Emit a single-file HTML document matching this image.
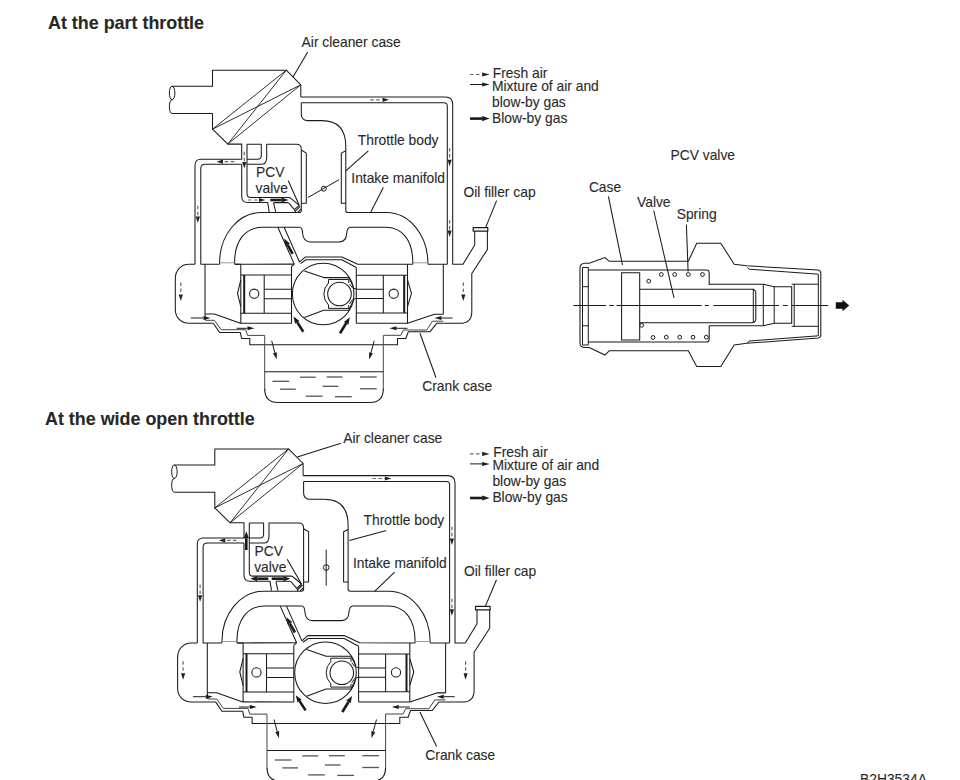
<!DOCTYPE html>
<html><head><meta charset="utf-8"><style>
html,body{margin:0;padding:0;background:#fff;}
svg{display:block;}
text{font-family:"Liberation Sans",sans-serif;fill:#262626;stroke:#555;stroke-width:0.15px;}
</style></head><body>
<svg width="960" height="780" viewBox="0 0 960 780">
<defs><g id="eng" stroke-linecap="butt" stroke-linejoin="round">
<path d="M172,86.3 L212.5,86.3 L212.5,70.2 L286.3,70.2 L300.8,84.8 L300.8,96.9" fill="none" stroke="#1a1a1a" stroke-width="1.05" />
<path d="M172,113.5 L212.5,113.5 L212.5,129.2 L227.8,144.1 L241.7,144.1" fill="none" stroke="#1a1a1a" stroke-width="1.05" />
<path d="M212.5,129.2 L286.3,70.2 M227.8,144.1 L300.8,84.8 M212.5,129.2 L300.8,84.8 M227.8,144.1 L286.3,70.2" fill="none" stroke="#1a1a1a" stroke-width="0.9" />
<path d="M172,86.3 C168.5,86.3 168.5,99.7 172,99.7 C175.8,99.7 175.8,86.3 172,86.3 M172,99.7 C168.5,99.7 168.5,113.5 172,113.5" fill="none" stroke="#1a1a1a" stroke-width="1.0" />
<path d="M300.8,96.9 L445.4,96.9 Q452.7,96.9 452.7,104.2 L452.7,264.2 L463,264.2 L474.7,245.1 L474.7,231.2" fill="none" stroke="#1a1a1a" stroke-width="1.05" />
<path d="M301.3,102.8 L444,102.8 Q447.3,102.8 447.3,106.1 L447.3,264.2" fill="none" stroke="#1a1a1a" stroke-width="1.05" />
<path d="M301.3,102.8 L301.3,114 Q301.3,120.6 308,120.6 L322,120.6 Q345.8,120.6 345.8,146.7 L345.8,210.4 Q345.8,212.5 348,212.5 L386.5,212.5 C409.4,212.5 427.9,235.3 427.9,263.5 L427.9,264.2" fill="none" stroke="#1a1a1a" stroke-width="1.05" />
<path d="M345.8,150.8 L341.3,153.1 L341.3,203.3 L345.8,203.3" fill="none" stroke="#1a1a1a" stroke-width="1.05" />
<path d="M487.4,231.2 L487.4,249.5 L471.8,273.5 L471.8,311.7 Q471.8,323.3 460,323.3 L443.3,323.3" fill="none" stroke="#1a1a1a" stroke-width="1.05" />
<path d="M473.2,227.6 L487.8,227.6 L487.8,231.2 L473.2,231.2 Z" fill="none" stroke="#1a1a1a" stroke-width="1.2" />
<path d="M241.7,143.8 L241.7,159.2 L201,159.2 Q195,159.2 195,165.2 L195,264.2" fill="none" stroke="#1a1a1a" stroke-width="1.05" />
<path d="M241.7,164.2 L205,164.2 Q200.8,164.2 200.8,168.5 L200.8,264.2 L219.6,264.2" fill="none" stroke="#1a1a1a" stroke-width="1.05" />
<path d="M241.7,164.2 L241.7,196.5 Q241.7,202.5 247.7,202.5 L267.7,202.5 L269.2,212" fill="none" stroke="#1a1a1a" stroke-width="1.05" />
<path d="M247,144.2 L247,193.5 Q247,197.4 250.5,197.4 L288.5,197.4 Q290.5,197.6 291.5,198.8 L299.2,205.3" fill="none" stroke="#1a1a1a" stroke-width="1.05" />
<path d="M247,144.2 L261.3,144.2 L261.3,155.5 Q261.3,159.2 257.6,159.2 L247,159.2" fill="none" stroke="#1a1a1a" stroke-width="1.05" />
<path d="M247,164.2 L262,164.2 Q266.7,164.2 266.7,157 L266.7,144.2 L296.5,144.2 Q301.3,144.2 301.3,149.2 L301.3,210.4 Q301.3,212.5 299.2,212.5 L261.2,212.5 C238.2,212.5 219.6,235 219.6,262.7 L219.6,264.2" fill="none" stroke="#1a1a1a" stroke-width="1.05" />
<path d="M301.3,150 L306.3,153.1 L306.3,203.3 L301.3,203.3" fill="none" stroke="#1a1a1a" stroke-width="1.05" />
<path d="M273.6,202.6 L287.5,202.6 Q288.6,202.8 289.3,203.6 L294.4,209.6" fill="none" stroke="#1a1a1a" stroke-width="1.05" />
<path d="M273.6,202.9 L275.7,212" fill="none" stroke="#1a1a1a" stroke-width="1.05" />
<path d="M294.4,209.6 L299.2,205.3 M295.0,211.3 L300.2,206.3 M297.9,212.2 L301.2,208.9" fill="none" stroke="#1a1a1a" stroke-width="1.1" />
<path d="M294.4,209.6 L295.6,212.3" fill="none" stroke="#1a1a1a" stroke-width="1.0" />
<path d="M234.6,264.2 L234.6,262.3 C234.6,240.6 245.3,227.3 262.7,227.3 L299.6,227.3 Q302.4,227.3 302.6,233.5 Q303.5,241.9 310.2,241.9 L339.1,241.9 Q346.2,241.9 346.6,234.1 Q347.2,227.3 350.5,227.3 L385.8,227.3 C402.5,227.3 412.8,240.6 412.8,262.3 L412.8,264.2" fill="none" stroke="#1a1a1a" stroke-width="1.05" />
<path d="M277.8,227.2 L294.3,264.1 M284.1,227.2 L299.6,262.2" fill="none" stroke="#1a1a1a" stroke-width="1.05" />
<path d="M219.6,262.8 L234.6,262.8" fill="none" stroke="#999" stroke-width="1.0" />
<path d="M234.6,264.2 L294.3,264.1" fill="none" stroke="#1a1a1a" stroke-width="1.05" />
<path d="M299.6,262.2 L305.4,256.9 L341.9,256.9 L357.3,264.1 L412.8,264.2 M427.9,264.2 L447.3,264.2" fill="none" stroke="#1a1a1a" stroke-width="1.05" />
<path d="M300.6,263.6 L305.9,259.8 L341.9,259.8 L356.3,267.5" fill="none" stroke="#1a1a1a" stroke-width="1.05" />
<path d="M427.9,262.8 L412.8,262.8" fill="none" stroke="#999" stroke-width="1.0" />
<path d="M195,264.2 L189,264.2 C181,264.2 175.3,270.5 175.3,278.5 L175.3,309.5 C175.3,317.5 181,323.2 189,323.2 L213.3,323.2 L219.6,332.5 L240.4,332.5 L241.5,338.5 L249.8,338.5 L249.8,344.8 L397.5,344.8 L397.5,338.5 L405.8,338.5 L408.3,331.7 L430,331.7 L436.7,323.3 L443.3,323.3" fill="none" stroke="#1a1a1a" stroke-width="1.05" />
<path d="M205,314 L214.4,314 L240.4,323.2 L291.7,323.3" fill="none" stroke="#1a1a1a" stroke-width="1.1" />
<path d="M205.5,320.3 L214.4,320.3 L221.1,329.7 L245.6,329.7 L247.6,335.4 L264.7,335.4 L264.7,390" fill="none" stroke="#444" stroke-width="1.0" />
<path d="M443.3,314.2 L434.5,314.2 L407.5,323.3 L356.3,323.3" fill="none" stroke="#1a1a1a" stroke-width="1.1" />
<path d="M443.3,321.2 L432.5,321.2 L426.7,330 L403.3,330 L400.8,335.3 L383.3,335.3 L383.3,390" fill="none" stroke="#444" stroke-width="1.0" />
<path d="M205,264.2 L205,314 M443.3,264.2 L443.3,314.2" fill="none" stroke="#1a1a1a" stroke-width="1.05" />
<path d="M240.8,264.2 L240.8,323.3 M291.5,266.5 L291.5,323.3 M356.3,267.5 L356.3,323.3 M407.5,264.2 L407.5,323.3" fill="none" stroke="#1a1a1a" stroke-width="1.05" />
<path d="M235,264.2 L240.8,264.2 M291.5,266.5 L294.3,264.1" fill="none" stroke="#1a1a1a" stroke-width="1.05" />
<path d="M240.8,275 L291.5,275 M240.8,313.3 L291.5,313.3 M264.2,275 L264.2,313.3 M240.8,280 L237.5,293.3 L240.8,306.7" fill="none" stroke="#1a1a1a" stroke-width="1.05" />
<line x1="244.2" y1="275" x2="244.2" y2="313.3" stroke="#1a1a1a" stroke-width="2.0" />
<circle cx="254.2" cy="293.7" r="4.6" fill="none" stroke="#1a1a1a" stroke-width="1.05"/>
<path d="M264.2,289.2 L292,289.2 M264.2,298.7 L292,298.7" fill="none" stroke="#1a1a1a" stroke-width="1.05" />
<path d="M356.3,275.3 L407.5,275.3 M356.3,313 L407.5,313 M383.3,275.3 L383.3,313 M407.5,280 L411.5,293.3 L407.5,306.7" fill="none" stroke="#1a1a1a" stroke-width="1.05" />
<line x1="404.2" y1="275.3" x2="404.2" y2="313" stroke="#1a1a1a" stroke-width="2.0" />
<circle cx="393.7" cy="293.7" r="4.6" fill="none" stroke="#1a1a1a" stroke-width="1.05"/>
<path d="M356.3,289.3 L383.3,289.3 M356.3,298.5 L383.3,298.5" fill="none" stroke="#1a1a1a" stroke-width="1.05" />
<circle cx="323.2" cy="294" r="30.8" fill="none" stroke="#1a1a1a" stroke-width="1.05"/>
<circle cx="339.5" cy="294" r="11.8" fill="none" stroke="#1a1a1a" stroke-width="1.05"/>
<path d="M304.4,270.9 L323.7,277.6 L348.7,277.6 L353.5,286.7 M304.4,317.5 L323.7,310.3 L348.7,310.3 L353.5,300.2" fill="none" stroke="#1a1a1a" stroke-width="1.05" />
<path d="M328.5,283 L328.5,279.5 L348.7,279.5 L348.7,283 M328.5,305 L328.5,308.4 L348.7,308.4 L348.7,305 M328.5,283 A15.4,15.4 0 0 0 328.5,305" fill="none" stroke="#1a1a1a" stroke-width="1.0" />
<path d="M356.3,289.1 Q352,289.1 349.5,284 M356.3,298.3 Q352,298.3 349.5,304" fill="none" stroke="#1a1a1a" stroke-width="1.0" />
<path d="M264.7,371.7 L383.3,371.7" fill="none" stroke="#1a1a1a" stroke-width="1.05" />
<path d="M264.7,389 Q264.7,402.5 278.3,402.5 L369.7,402.5 Q383.3,402.5 383.3,389" fill="none" stroke="#1a1a1a" stroke-width="1.1" />
<line x1="272.5" y1="381.3" x2="289.2" y2="381.3" stroke="#555" stroke-width="1.3" />
<line x1="300" y1="377.2" x2="315.8" y2="377.2" stroke="#555" stroke-width="1.3" />
<line x1="326.7" y1="377" x2="342.5" y2="377" stroke="#555" stroke-width="1.3" />
<line x1="360" y1="377" x2="376.7" y2="377" stroke="#555" stroke-width="1.3" />
<line x1="280" y1="389.2" x2="295.8" y2="389.2" stroke="#555" stroke-width="1.3" />
<line x1="322.5" y1="386.3" x2="338.3" y2="386.3" stroke="#555" stroke-width="1.3" />
<line x1="360" y1="388.8" x2="376.7" y2="388.8" stroke="#555" stroke-width="1.3" />
<line x1="305.8" y1="396.2" x2="322.5" y2="396.2" stroke="#555" stroke-width="1.3" />
<line x1="335" y1="396.7" x2="351.7" y2="396.7" stroke="#555" stroke-width="1.3" />
<path d="M205.5,320.3 L205,314" fill="none" stroke="#1a1a1a" stroke-width="1.0" />
<polygon points="389.00,99.80 382.50,101.90 382.50,97.70" fill="#222"/>
<line x1="370.2" y1="99.8" x2="382.50" y2="99.80" stroke="#666" stroke-width="1.2" stroke-dasharray="3.5,2.5"/>
<polygon points="449.60,166.30 447.50,159.80 451.70,159.80" fill="#222"/>
<line x1="449.6" y1="148" x2="449.60" y2="159.80" stroke="#666" stroke-width="1.2" stroke-dasharray="3.5,2.5"/>
<polygon points="449.60,237.00 447.50,230.50 451.70,230.50" fill="#222"/>
<line x1="449.6" y1="220" x2="449.60" y2="230.50" stroke="#666" stroke-width="1.2" stroke-dasharray="3.5,2.5"/>
<polygon points="216.50,161.70 223.00,159.60 223.00,163.80" fill="#222"/>
<line x1="234.2" y1="161.7" x2="223.00" y2="161.70" stroke="#666" stroke-width="1.2" stroke-dasharray="3.5,2.5"/>
<polygon points="197.80,223.00 195.70,216.50 199.90,216.50" fill="#222"/>
<line x1="197.8" y1="205.8" x2="197.80" y2="216.50" stroke="#666" stroke-width="1.2" stroke-dasharray="3.5,2.5"/>
<polygon points="180.80,301.00 178.70,294.50 182.90,294.50" fill="#222"/>
<line x1="180.8" y1="282.5" x2="180.80" y2="294.50" stroke="#666" stroke-width="1.2" stroke-dasharray="3.5,2.5"/>
<polygon points="463.30,301.00 461.20,294.50 465.40,294.50" fill="#222"/>
<line x1="463.3" y1="282.5" x2="463.30" y2="294.50" stroke="#666" stroke-width="1.2" stroke-dasharray="3.5,2.5"/>
<polygon points="210.50,318.00 203.50,320.00 203.50,316.00" fill="#1a1a1a"/>
<line x1="190.8" y1="318" x2="203.50" y2="318.00" stroke="#1a1a1a" stroke-width="1.0" />
<polygon points="254.50,328.30 247.50,330.30 247.50,326.30" fill="#1a1a1a"/>
<line x1="236.7" y1="328.3" x2="247.50" y2="328.30" stroke="#1a1a1a" stroke-width="1.0" />
<polygon points="434.50,318.00 441.50,316.00 441.50,320.00" fill="#1a1a1a"/>
<line x1="452.5" y1="318" x2="441.50" y2="318.00" stroke="#1a1a1a" stroke-width="1.0" />
<polygon points="389.50,328.30 396.50,326.30 396.50,330.30" fill="#1a1a1a"/>
<line x1="407.5" y1="328.3" x2="396.50" y2="328.30" stroke="#1a1a1a" stroke-width="1.0" />
<polygon points="284.20,238.50 289.85,243.38 285.29,245.89" fill="#1a1a1a"/>
<line x1="292.6" y1="253.8" x2="287.57" y2="244.64" stroke="#1a1a1a" stroke-width="2.6" />
<polygon points="293.50,316.50 299.48,320.97 295.11,323.79" fill="#1a1a1a"/>
<line x1="303.3" y1="331.7" x2="297.29" y2="322.38" stroke="#1a1a1a" stroke-width="2.6" />
<polygon points="349.80,317.30 348.36,324.63 343.93,321.91" fill="#1a1a1a"/>
<line x1="340" y1="333.3" x2="346.14" y2="323.27" stroke="#1a1a1a" stroke-width="2.6" />
<polygon points="276.70,359.50 272.96,353.25 276.82,352.22" fill="#1a1a1a"/>
<line x1="271.7" y1="340.8" x2="274.89" y2="352.74" stroke="#1a1a1a" stroke-width="1.0" />
<polygon points="369.20,359.50 369.08,352.22 372.94,353.25" fill="#1a1a1a"/>
<line x1="374.2" y1="340.8" x2="371.01" y2="352.74" stroke="#1a1a1a" stroke-width="1.0" />
</g></defs>
<use href="#eng"/>
<line x1="308" y1="197.5" x2="339" y2="179.7" stroke="#1a1a1a" stroke-width="1.0" />
<circle cx="323.8" cy="188.7" r="2.5" fill="none" stroke="#1a1a1a" stroke-width="1.0"/>
<polygon points="244.30,168.50 242.20,162.00 246.40,162.00" fill="#222"/>
<line x1="244.3" y1="151.7" x2="244.30" y2="162.00" stroke="#666" stroke-width="1.2" stroke-dasharray="3.5,2.5"/>
<polygon points="265.50,200.00 259.00,202.10 259.00,197.90" fill="#222"/>
<line x1="248" y1="200" x2="259.00" y2="200.00" stroke="#666" stroke-width="1.2" stroke-dasharray="3.5,2.5"/>
<polygon points="288.50,200.00 281.50,202.60 281.50,197.40" fill="#1a1a1a"/>
<line x1="270.3" y1="200" x2="281.50" y2="200.00" stroke="#1a1a1a" stroke-width="2.6" />
<g transform="translate(2.3,378.7)"><use href="#eng"/>
<line x1="323.9" y1="171" x2="323.9" y2="207" stroke="#1a1a1a" stroke-width="1.0" />
<circle cx="323.9" cy="188.8" r="2.8" fill="none" stroke="#1a1a1a" stroke-width="1.0"/>
<polygon points="244.00,152.50 246.60,159.50 241.40,159.50" fill="#1a1a1a"/>
<line x1="244" y1="171.3" x2="244.00" y2="159.50" stroke="#1a1a1a" stroke-width="2.6" />
<polygon points="248.00,200.00 255.00,197.40 255.00,202.60" fill="#1a1a1a"/>
<line x1="266" y1="200" x2="255.00" y2="200.00" stroke="#1a1a1a" stroke-width="2.6" />
<polygon points="288.00,200.00 281.00,202.60 281.00,197.40" fill="#1a1a1a"/>
<line x1="269.4" y1="200" x2="281.00" y2="200.00" stroke="#1a1a1a" stroke-width="2.6" />
</g>
<polygon points="489.60,74.50 482.10,76.60 482.10,72.40" fill="#222"/>
<line x1="470" y1="74.5" x2="482.10" y2="74.50" stroke="#666" stroke-width="1.2" stroke-dasharray="3.5,2.5"/>
<polygon points="489.60,84.50 482.10,86.50 482.10,82.50" fill="#1a1a1a"/>
<line x1="470" y1="84.5" x2="482.10" y2="84.50" stroke="#1a1a1a" stroke-width="1.0" />
<polygon points="489.60,118.60 482.10,121.20 482.10,116.00" fill="#1a1a1a"/>
<line x1="470" y1="118.6" x2="482.10" y2="118.60" stroke="#1a1a1a" stroke-width="2.6" />
<polygon points="489.60,453.90 482.10,456.00 482.10,451.80" fill="#222"/>
<line x1="470" y1="453.9" x2="482.10" y2="453.90" stroke="#666" stroke-width="1.2" stroke-dasharray="3.5,2.5"/>
<polygon points="489.60,463.90 482.10,465.90 482.10,461.90" fill="#1a1a1a"/>
<line x1="470" y1="463.9" x2="482.10" y2="463.90" stroke="#1a1a1a" stroke-width="1.0" />
<polygon points="489.60,498.00 482.10,500.60 482.10,495.40" fill="#1a1a1a"/>
<line x1="470" y1="498.0" x2="482.10" y2="498.00" stroke="#1a1a1a" stroke-width="2.6" />
<line x1="307.7" y1="51.9" x2="293" y2="76.9" stroke="#1a1a1a" stroke-width="1.05" />
<line x1="368.3" y1="150.8" x2="345.8" y2="170.8" stroke="#1a1a1a" stroke-width="1.05" />
<line x1="383.3" y1="187.5" x2="370.8" y2="212" stroke="#1a1a1a" stroke-width="1.05" />
<line x1="496.6" y1="200.6" x2="485.6" y2="227.6" stroke="#1a1a1a" stroke-width="1.05" />
<line x1="288.3" y1="180.8" x2="299.2" y2="205.3" stroke="#1a1a1a" stroke-width="1.05" />
<line x1="420" y1="333.3" x2="436" y2="377.8" stroke="#1a1a1a" stroke-width="1.05" />
<line x1="341" y1="443.3" x2="297.3" y2="457" stroke="#1a1a1a" stroke-width="1.05" />
<line x1="386.25" y1="530.4" x2="349.4" y2="540.4" stroke="#1a1a1a" stroke-width="1.05" />
<line x1="394.6" y1="572.1" x2="374.6" y2="591.3" stroke="#1a1a1a" stroke-width="1.05" />
<line x1="496.5" y1="579.8" x2="485.2" y2="606.6" stroke="#1a1a1a" stroke-width="1.05" />
<line x1="287.2" y1="559.2" x2="301.5" y2="584" stroke="#1a1a1a" stroke-width="1.05" />
<line x1="436.6" y1="746.4" x2="419.9" y2="712" stroke="#1a1a1a" stroke-width="1.05" />
<path d="M580,268 Q580,263.5 585,263.3 L589.2,263.3 L605,257.5 L609.2,261.3 L688.3,261.3 L696.7,243.3 L720.8,243.3 L734.2,264.2 L746.7,265.8 L818.3,270 Q820.8,270.5 820.8,273 L820.8,335 Q820.8,337.5 818.3,338 L746.7,343.3 L734.2,345 L720.8,366.5 L696.7,366.5 L688.3,350.8 L609.2,350.8 L605,355 L589.2,347.5 L585,347.5 Q580,347.3 580,343 Z" fill="none" stroke="#1a1a1a" stroke-width="1.05" />
<path d="M582.5,267.5 L588.3,267.5 L588.3,345 L582.5,345 Z M582.5,286.7 L588.3,286.7 M582.5,325.8 L588.3,325.8" fill="none" stroke="#1a1a1a" stroke-width="1.0" />
<path d="M588.3,270 L706.7,270 Q709.2,270 709.2,273 L709.2,285 M588.3,342 L706.7,342 Q709.2,342 709.2,339 L709.2,325.8" fill="none" stroke="#1a1a1a" stroke-width="1.05" />
<path d="M621.6,272.8 L639.7,272.8 L639.7,340 L621.6,340 Z" fill="none" stroke="#1a1a1a" stroke-width="1.05" />
<path d="M639.7,289.2 L752.5,289.2 Q755.8,290 755.8,293 L755.8,319 Q755.8,322 752.5,322.8 L639.7,322.8" fill="none" stroke="#1a1a1a" stroke-width="1.05" />
<path d="M709.2,284.2 L763.3,284.2 L774.2,286.7 L791.7,286.7 L791.7,323.3 L774.2,323.3 L763.3,325.8 L709.2,325.8" fill="none" stroke="#1a1a1a" stroke-width="1.05" />
<path d="M763.3,284.2 L763.3,325.8 M774.2,286.7 L774.2,323.3 M794.2,284.2 L794.2,326.3 M791.7,284.2 L818.3,284.2 M791.7,326.3 L818.3,326.3 M818.3,274.2 L818.3,335.8 M753.3,288.7 L753.3,322.3" fill="none" stroke="#1a1a1a" stroke-width="1.0" />
<path d="M747.5,267.5 L749.2,269.2 L818.3,274.2 M747.5,343 L749.2,341 L818.3,335.8" fill="none" stroke="#1a1a1a" stroke-width="1.0" />
<circle cx="661.3" cy="274.5" r="1.9" fill="none" stroke="#1a1a1a" stroke-width="1.0"/>
<circle cx="674.7" cy="274.5" r="1.9" fill="none" stroke="#1a1a1a" stroke-width="1.0"/>
<circle cx="688.3" cy="274.5" r="1.9" fill="none" stroke="#1a1a1a" stroke-width="1.0"/>
<circle cx="702.5" cy="274.5" r="1.9" fill="none" stroke="#1a1a1a" stroke-width="1.0"/>
<circle cx="648.7" cy="281.2" r="1.9" fill="none" stroke="#1a1a1a" stroke-width="1.0"/>
<circle cx="641.7" cy="325.3" r="1.9" fill="none" stroke="#1a1a1a" stroke-width="1.0"/>
<circle cx="653" cy="337.5" r="1.9" fill="none" stroke="#1a1a1a" stroke-width="1.0"/>
<circle cx="666.3" cy="337.2" r="1.9" fill="none" stroke="#1a1a1a" stroke-width="1.0"/>
<circle cx="679.7" cy="337.2" r="1.9" fill="none" stroke="#1a1a1a" stroke-width="1.0"/>
<circle cx="693" cy="337.2" r="1.9" fill="none" stroke="#1a1a1a" stroke-width="1.0"/>
<circle cx="706.3" cy="337.2" r="1.9" fill="none" stroke="#1a1a1a" stroke-width="1.0"/>
<path d="M573.3,305.5 L606,305.5 M609.4,305.5 L613.8,305.5 M616.5,305.5 L701.7,305.5 M704.8,305.5 L708.8,305.5 M713.4,305.5 L779,305.5 M783,305.5 L787.7,305.5 M791.6,305.5 L828.3,305.5" fill="none" stroke="#1a1a1a" stroke-width="1.0" />
<polygon points="835.8,302.3 842.5,302.3 842.5,299.8 849.2,305.5 842.5,311.3 842.5,308.7 835.8,308.7" fill="#111"/>
<line x1="608.4" y1="196.3" x2="622.5" y2="265" stroke="#1a1a1a" stroke-width="1.05" />
<line x1="653.7" y1="210.5" x2="674" y2="297.8" stroke="#1a1a1a" stroke-width="1.05" />
<line x1="686.4" y1="224.4" x2="688.1" y2="271.5" stroke="#1a1a1a" stroke-width="1.05" />
<text x="48" y="29" font-size="17.9" font-weight="bold">At the part throttle</text><text x="45" y="425" font-size="17.9" font-weight="bold">At the wide open throttle</text><text x="301.6" y="47.3" font-size="15.0" textLength="99.12" lengthAdjust="spacingAndGlyphs">Air cleaner case</text><text x="343.2" y="442.8" font-size="15.0" textLength="99.12" lengthAdjust="spacingAndGlyphs">Air cleaner case</text><text x="492.8" y="77.6" font-size="15.0" textLength="54.56" lengthAdjust="spacingAndGlyphs">Fresh air</text><text x="492.0" y="90.9" font-size="15.0" textLength="106.81" lengthAdjust="spacingAndGlyphs">Mixture of air and</text><text x="492.0" y="106.5" font-size="15.0" textLength="73.78" lengthAdjust="spacingAndGlyphs">blow-by gas</text><text x="492.0" y="122.9" font-size="15.0" textLength="75.31" lengthAdjust="spacingAndGlyphs">Blow-by gas</text><text x="493.2" y="456.9" font-size="15.0" textLength="54.56" lengthAdjust="spacingAndGlyphs">Fresh air</text><text x="492.4" y="470.0" font-size="15.0" textLength="106.81" lengthAdjust="spacingAndGlyphs">Mixture of air and</text><text x="492.4" y="486.1" font-size="15.0" textLength="73.78" lengthAdjust="spacingAndGlyphs">blow-by gas</text><text x="492.4" y="502.2" font-size="15.0" textLength="75.31" lengthAdjust="spacingAndGlyphs">Blow-by gas</text><text x="357.8" y="144.8" font-size="15.0" textLength="80.69" lengthAdjust="spacingAndGlyphs">Throttle body</text><text x="363.6" y="525.1" font-size="15.0" textLength="80.69" lengthAdjust="spacingAndGlyphs">Throttle body</text><text x="351.3" y="183.3" font-size="15.0" textLength="93.76" lengthAdjust="spacingAndGlyphs">Intake manifold</text><text x="352.9" y="568.3" font-size="15.0" textLength="93.76" lengthAdjust="spacingAndGlyphs">Intake manifold</text><text x="463.4" y="196.7" font-size="15.0" textLength="72.22" lengthAdjust="spacingAndGlyphs">Oil filler cap</text><text x="464.0" y="576.3" font-size="15.0" textLength="72.22" lengthAdjust="spacingAndGlyphs">Oil filler cap</text><text x="422.2" y="390.8" font-size="15.0" textLength="69.93" lengthAdjust="spacingAndGlyphs">Crank case</text><text x="425.3" y="759.9" font-size="15.0" textLength="69.93" lengthAdjust="spacingAndGlyphs">Crank case</text><text x="256.0" y="177.4" font-size="15.0" textLength="28.44" lengthAdjust="spacingAndGlyphs">PCV</text><text x="255.6" y="193.3" font-size="15.0" textLength="32.27" lengthAdjust="spacingAndGlyphs">valve</text><text x="254.5" y="556.4" font-size="15.0" textLength="28.44" lengthAdjust="spacingAndGlyphs">PCV</text><text x="254.2" y="571.9" font-size="15.0" textLength="32.27" lengthAdjust="spacingAndGlyphs">valve</text><text x="670.5" y="160" font-size="15.0" textLength="64.55" lengthAdjust="spacingAndGlyphs">PCV valve</text><text x="588.9" y="192.2" font-size="15.0" textLength="32.27" lengthAdjust="spacingAndGlyphs">Case</text><text x="637.0" y="206.7" font-size="15.0" textLength="33.57" lengthAdjust="spacingAndGlyphs">Valve</text><text x="676.7" y="219.2" font-size="15.0" textLength="39.97" lengthAdjust="spacingAndGlyphs">Spring</text><text x="860.0" y="783.8" font-size="15.0" textLength="66.88" lengthAdjust="spacingAndGlyphs">B2H3534A</text>
</svg>
</body></html>
